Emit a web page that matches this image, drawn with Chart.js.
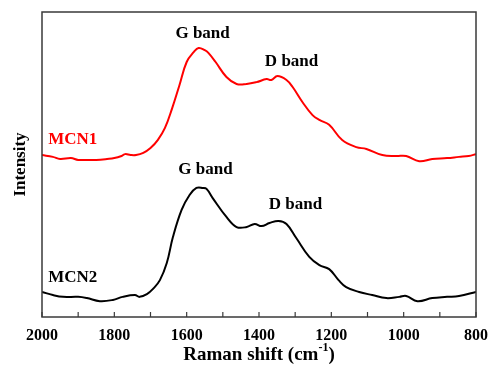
<!DOCTYPE html>
<html>
<head>
<meta charset="utf-8">
<script src="https://cdn.jsdelivr.net/npm/chart.js@4.4.0/dist/chart.umd.min.js"></script>
<style>
  html, body { margin: 0; padding: 0; background: #ffffff; }
  #wrap { width: 489px; height: 366px; }
</style>
</head>
<body>
<div id="wrap"><canvas id="ramanChart" width="489" height="366"></canvas></div>
<script>
// Raman spectra, intensity in arbitrary units (offset stacked)
const shiftMCN1 = [2000, 1970, 1950, 1920, 1900, 1870, 1850, 1820, 1800, 1780, 1770, 1755, 1740, 1720, 1700,
    1680, 1660, 1640, 1620, 1600, 1580, 1567, 1550, 1540, 1520, 1490, 1462, 1434, 1407, 1379, 1366, 1349,
    1324, 1307, 1280, 1252, 1233, 1206, 1170, 1131, 1103, 1059, 1020, 993, 957, 921, 880, 847, 820, 800];
const intensityMCN1 = [53.1, 52.5, 51.8, 52.1, 51.5, 51.5, 51.5, 51.8, 52.1, 52.8, 53.4, 53.1, 53.1, 53.8, 55.4,
    58.0, 62.0, 68.5, 76.0, 83.6, 86.9, 88.2, 87.5, 86.6, 83.6, 78.7, 76.4, 76.4, 77.0, 78.0, 77.7, 79.0,
    77.7, 75.4, 70.5, 66.2, 64.6, 63.0, 58.0, 55.7, 55.1, 53.1, 52.8, 52.8, 51.1, 51.8, 52.1, 52.5, 52.8, 53.4];

const shiftMCN2 = [2000, 1970, 1942, 1900, 1876, 1840, 1804, 1777, 1743, 1730, 1710, 1693, 1674, 1655, 1638,
    1614, 1592, 1573, 1555, 1545, 1528, 1490, 1462, 1434, 1412, 1393, 1371, 1346, 1324, 1297, 1261, 1233,
    1206, 1180, 1159, 1123, 1087, 1048, 1012, 993, 962, 921, 880, 847, 800];
const intensityMCN2 = [8.2, 7.2, 6.6, 6.6, 6.2, 5.2, 5.6, 6.6, 7.2, 6.6, 7.5, 9.2, 12.1, 17.7, 26.2,
    35.1, 40.0, 42.3, 42.3, 42.0, 39.0, 32.8, 29.5, 29.5, 30.5, 29.8, 30.8, 31.5, 30.5, 25.9, 19.7, 17.0,
    15.7, 12.1, 9.8, 8.2, 7.2, 6.2, 6.6, 6.9, 5.2, 6.2, 6.6, 6.9, 8.2];

const xTicks = [2000, 1800, 1600, 1400, 1200, 1000, 800];

// text annotations anchored in data coordinates
const notes = [
    { text: 'G band', x: 1556, y: 93.0, color: '#000000', align: 'center' },
    { text: 'D band', x: 1310, y: 83.6, color: '#000000', align: 'center' },
    { text: 'MCN1', x: 1983, y: 58.0, color: '#ff0000', align: 'left' },
    { text: 'G band', x: 1548, y: 48.2, color: '#000000', align: 'center' },
    { text: 'D band', x: 1299, y: 36.7, color: '#000000', align: 'center' },
    { text: 'MCN2', x: 1983, y: 12.8, color: '#000000', align: 'left' }
];

const serif = '"Liberation Serif", "Times New Roman", serif';

const decorPlugin = {
    id: 'decor',
    afterDraw(chart) {
        const { ctx, chartArea: area, scales } = chart;
        const xs = scales.x, ys = scales.y;
        ctx.save();

        // frame around plot
        ctx.strokeStyle = '#3a3a3a';
        ctx.lineWidth = 1.5;
        ctx.strokeRect(area.left, area.top, area.right - area.left, area.bottom - area.top);

        // inward ticks every 100 cm-1
        ctx.lineWidth = 1.2;
        for (let v = 800; v <= 2000; v += 100) {
            const px = xs.getPixelForValue(v);
            ctx.beginPath();
            ctx.moveTo(px, area.bottom);
            ctx.lineTo(px, area.bottom - 5);
            ctx.stroke();
        }

        // band / sample labels
        ctx.font = 'bold 17px ' + serif;
        ctx.textBaseline = 'middle';
        notes.forEach(n => {
            ctx.fillStyle = n.color;
            ctx.textAlign = n.align;
            ctx.fillText(n.text, xs.getPixelForValue(n.x), ys.getPixelForValue(n.y));
        });

        // x axis title with superscript
        const cx = (area.left + area.right) / 2;
        const ty = 355;
        const main = 'Raman shift (cm';
        const sup = '-1';
        const tail = ')';
        ctx.fillStyle = '#000000';
        ctx.textAlign = 'left';
        ctx.font = 'bold 19px ' + serif;
        const wMain = ctx.measureText(main).width;
        const wTail = ctx.measureText(tail).width;
        ctx.font = 'bold 12px ' + serif;
        const wSup = ctx.measureText(sup).width;
        let x0 = cx - (wMain + wSup + wTail) / 2;
        ctx.font = 'bold 19px ' + serif;
        ctx.fillText(main, x0, ty);
        ctx.font = 'bold 12px ' + serif;
        ctx.fillText(sup, x0 + wMain, ty - 7);
        ctx.font = 'bold 19px ' + serif;
        ctx.fillText(tail, x0 + wMain + wSup, ty);

        ctx.restore();
    }
};

new Chart(document.getElementById('ramanChart'), {
    type: 'line',
    data: {
        datasets: [
            {
                label: 'MCN1',
                data: shiftMCN1.map((x, i) => ({ x, y: intensityMCN1[i] })),
                borderColor: '#ff0000',
                borderWidth: 2,
                pointRadius: 0,
                tension: 0.4
            },
            {
                label: 'MCN2',
                data: shiftMCN2.map((x, i) => ({ x, y: intensityMCN2[i] })),
                borderColor: '#000000',
                borderWidth: 2,
                pointRadius: 0,
                tension: 0.4
            }
        ]
    },
    options: {
        responsive: false,
        animation: false,
        layout: { padding: { top: 12, right: 12, left: 0, bottom: 0 } },
        plugins: {
            legend: { display: false },
            tooltip: { enabled: false }
        },
        scales: {
            x: {
                type: 'linear',
                reverse: true,
                min: 800,
                max: 2000,
                afterFit: (s) => { s.height = 49; },
                afterBuildTicks: (s) => { s.ticks = xTicks.map(v => ({ value: v })); },
                grid: { display: false },
                border: { display: false },
                ticks: {
                    color: '#000000',
                    padding: 1,
                    maxRotation: 0,
                    callback: (v) => String(v),
                    font: { family: serif, size: 16, weight: 'bold' }
                }
            },
            y: {
                min: 0,
                max: 100,
                afterFit: (s) => { s.width = 42; },
                grid: { display: false },
                border: { display: false },
                ticks: { display: false },
                title: {
                    display: true,
                    text: 'Intensity',
                    color: '#000000',
                    padding: { top: 10, bottom: 0 },
                    font: { family: serif, size: 17, weight: 'bold' }
                }
            }
        }
    },
    plugins: [decorPlugin]
});
</script>
</body>
</html>
